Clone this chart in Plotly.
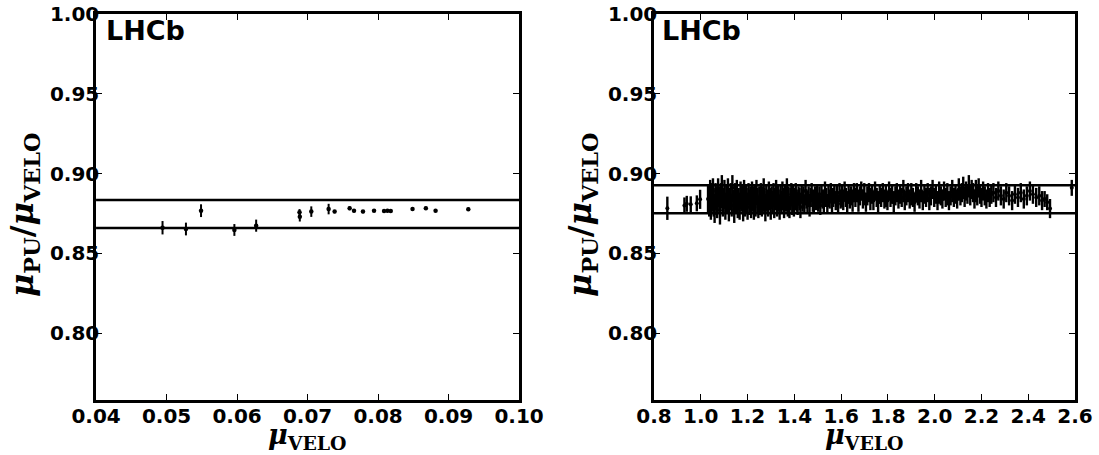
import plotly.graph_objects as go

# ---------------- Left panel (low mu) ----------------
left_x = [0.04943, 0.05275, 0.05489, 0.05962, 0.06271, 0.06886, 0.06890, 0.07053, 0.07299,
          0.07384, 0.07597, 0.07659, 0.07786, 0.07943, 0.08085, 0.08133, 0.08180, 0.08489,
          0.08678, 0.08816, 0.09280]
left_y = [0.8660, 0.8652, 0.8767, 0.8646, 0.8673, 0.8757, 0.8729, 0.8761, 0.8777,
          0.8761, 0.8782, 0.8767, 0.8761, 0.8767, 0.8765, 0.8767, 0.8765, 0.8777,
          0.8782, 0.8767, 0.8776]
left_yerr = [0.0042, 0.0040, 0.0040, 0.0037, 0.0038, 0.0020, 0.0030, 0.0033, 0.0033,
             0.0010, 0.0012, 0.0010, 0.0010, 0.0008, 0.0008, 0.0010, 0.0008, 0.0008,
             0.0010, 0.0008, 0.0010]
left_band = [0.8658, 0.8834]

# ---------------- Right panel (high mu) ----------------
right_x = [
    0.857, 0.930, 0.940, 0.957, 0.983, 0.997,
    1.031, 1.036, 1.040, 1.043, 1.048, 1.052, 1.055, 1.059, 1.063, 1.067,
    1.070, 1.074, 1.079, 1.082, 1.086, 1.090, 1.094, 1.097, 1.101, 1.105,
    1.109, 1.113, 1.116, 1.120, 1.124, 1.128, 1.132, 1.135, 1.139, 1.143,
    1.147, 1.151, 1.154, 1.158, 1.162, 1.166, 1.170, 1.173, 1.177, 1.181,
    1.185, 1.189, 1.193, 1.196, 1.200, 1.204, 1.208, 1.212, 1.215, 1.219,
    1.223, 1.227, 1.231, 1.234, 1.238, 1.242, 1.246, 1.250, 1.253, 1.257,
    1.261, 1.265, 1.269, 1.272, 1.276, 1.280, 1.284, 1.288, 1.291, 1.295,
    1.299, 1.303, 1.307, 1.311, 1.314, 1.318, 1.322, 1.326, 1.330, 1.333,
    1.337, 1.341, 1.345, 1.349, 1.352, 1.356, 1.360, 1.364, 1.368, 1.372,
    1.375, 1.379, 1.383, 1.387, 1.391, 1.394, 1.398, 1.402, 1.406, 1.410,
    1.414, 1.418, 1.422, 1.426, 1.431, 1.435, 1.439, 1.443, 1.448, 1.452,
    1.456, 1.461, 1.465, 1.470, 1.474, 1.479, 1.483, 1.488, 1.492, 1.497,
    1.502, 1.507, 1.511, 1.516, 1.521, 1.526, 1.531, 1.536, 1.541, 1.546,
    1.551, 1.556, 1.561, 1.566, 1.571, 1.577, 1.582, 1.587, 1.593, 1.598,
    1.604, 1.609, 1.615, 1.620, 1.626, 1.632, 1.637, 1.643, 1.649, 1.655,
    1.661, 1.667, 1.674, 1.680, 1.686, 1.693, 1.699, 1.706, 1.712, 1.719,
    1.725, 1.732, 1.738, 1.745, 1.752, 1.758, 1.765, 1.771, 1.778, 1.785,
    1.791, 1.798, 1.805, 1.811, 1.818, 1.825, 1.832, 1.838, 1.845, 1.852,
    1.859, 1.866, 1.872, 1.879, 1.886, 1.893, 1.900, 1.907, 1.914, 1.921,
    1.928, 1.935, 1.942, 1.949, 1.956, 1.963, 1.970, 1.977, 1.984, 1.991,
    1.998, 2.005, 2.012, 2.019, 2.026, 2.033, 2.040, 2.047, 2.054, 2.061,
    2.068, 2.075, 2.082, 2.089, 2.096, 2.103, 2.110, 2.116, 2.122, 2.128,
    2.134, 2.140, 2.146, 2.152, 2.158, 2.164, 2.170, 2.176, 2.182, 2.188,
    2.194, 2.200, 2.207, 2.214, 2.221, 2.228, 2.235, 2.242,
    2.251, 2.262, 2.272, 2.283, 2.295, 2.306, 2.318, 2.331, 2.343, 2.356,
    2.368, 2.381, 2.394, 2.407, 2.420, 2.434, 2.447, 2.459, 2.470, 2.481,
    2.493, 2.586,
]
right_y = [
    0.8782, 0.880, 0.881, 0.8807, 0.8813, 0.8838,
    0.884, 0.881, 0.887, 0.879, 0.885, 0.889, 0.882, 0.878, 0.886, 0.883,
    0.880, 0.888, 0.884, 0.877, 0.886, 0.890, 0.881, 0.883, 0.887, 0.879,
    0.885, 0.882, 0.889, 0.878, 0.884, 0.886, 0.880, 0.891, 0.883, 0.877,
    0.886, 0.882, 0.888, 0.880, 0.884, 0.879, 0.887, 0.883, 0.885, 0.878,
    0.889, 0.881, 0.886, 0.883, 0.879, 0.887, 0.882, 0.885, 0.880, 0.888,
    0.884, 0.878, 0.886, 0.881, 0.889, 0.883, 0.879, 0.885, 0.882, 0.887,
    0.880, 0.884, 0.890, 0.882, 0.878, 0.886, 0.883, 0.881, 0.888, 0.884,
    0.879, 0.885, 0.882, 0.887, 0.880, 0.884, 0.889, 0.881, 0.886, 0.883,
    0.878, 0.885, 0.882, 0.888, 0.884, 0.880, 0.886, 0.883, 0.890, 0.881,
    0.885, 0.879, 0.884, 0.887, 0.882, 0.886, 0.880, 0.884, 0.888, 0.883,
    0.881, 0.886, 0.884, 0.879, 0.887, 0.883, 0.885, 0.881, 0.889, 0.884,
    0.882, 0.886, 0.880, 0.885, 0.888, 0.883, 0.881, 0.886, 0.884, 0.887,
    0.882, 0.885, 0.880, 0.887, 0.884, 0.882, 0.889, 0.885, 0.881, 0.886,
    0.884, 0.888, 0.882, 0.885, 0.887, 0.883, 0.886, 0.881, 0.888, 0.884,
    0.886, 0.883, 0.889, 0.885, 0.882, 0.887, 0.884, 0.886, 0.883, 0.888,
    0.885, 0.888, 0.883, 0.886, 0.889, 0.884, 0.887, 0.882, 0.886, 0.888,
    0.884, 0.887, 0.883, 0.889, 0.885, 0.882, 0.887, 0.885, 0.888, 0.884,
    0.886, 0.883, 0.889, 0.885, 0.887, 0.882, 0.886, 0.888, 0.884, 0.887,
    0.885, 0.889, 0.883, 0.886, 0.888, 0.884, 0.887, 0.885, 0.882, 0.888,
    0.886, 0.884, 0.889, 0.883, 0.887, 0.885, 0.888, 0.884, 0.886, 0.890,
    0.885, 0.887, 0.883, 0.888, 0.886, 0.884, 0.889, 0.885, 0.887, 0.883,
    0.886, 0.889, 0.885, 0.887, 0.884, 0.890, 0.886, 0.888, 0.891, 0.885,
    0.889, 0.887, 0.892, 0.886, 0.890, 0.888, 0.884, 0.889, 0.886, 0.891,
    0.887, 0.885, 0.889, 0.886, 0.884, 0.888, 0.885, 0.887,
    0.888, 0.885, 0.889, 0.886, 0.884, 0.888, 0.886, 0.883, 0.887, 0.885,
    0.888, 0.884, 0.886, 0.889, 0.887, 0.885, 0.886, 0.883, 0.884, 0.882,
    0.878, 0.891,
]
right_yerr = [
    0.0073, 0.005, 0.005, 0.005, 0.005, 0.006,
    0.009, 0.008, 0.009, 0.008, 0.009, 0.008, 0.009, 0.009, 0.008, 0.009,
    0.008, 0.009, 0.008, 0.009, 0.008, 0.009, 0.008, 0.008, 0.009, 0.008,
    0.008, 0.007, 0.008, 0.008, 0.007, 0.008, 0.007, 0.008, 0.007, 0.008,
    0.008, 0.007, 0.008, 0.008, 0.007, 0.008, 0.008, 0.007, 0.008, 0.008,
    0.007, 0.008, 0.007, 0.008, 0.008, 0.007, 0.008, 0.007, 0.008, 0.007,
    0.008, 0.007, 0.007, 0.008, 0.007, 0.008, 0.007, 0.007, 0.008, 0.007,
    0.007, 0.008, 0.007, 0.007, 0.008, 0.007, 0.007, 0.008, 0.007, 0.007,
    0.008, 0.007, 0.007, 0.007, 0.008, 0.007, 0.007, 0.008, 0.007, 0.007,
    0.007, 0.008, 0.007, 0.007, 0.007, 0.008, 0.007, 0.007, 0.007, 0.008,
    0.007, 0.007, 0.007, 0.007, 0.008, 0.007, 0.007, 0.007, 0.006, 0.007,
    0.007, 0.006, 0.007, 0.007, 0.006, 0.007, 0.007, 0.006, 0.007, 0.006,
    0.007, 0.006, 0.007, 0.006, 0.006, 0.007, 0.006, 0.006, 0.007, 0.006,
    0.006, 0.007, 0.006, 0.006, 0.006, 0.007, 0.006, 0.006, 0.006, 0.007,
    0.006, 0.006, 0.007, 0.006, 0.006, 0.006, 0.007, 0.006, 0.006, 0.006,
    0.007, 0.006, 0.006, 0.006, 0.007, 0.006, 0.006, 0.006, 0.007, 0.006,
    0.006, 0.006, 0.007, 0.006, 0.006, 0.006, 0.007, 0.006, 0.006, 0.006,
    0.007, 0.006, 0.006, 0.006, 0.006, 0.007, 0.006, 0.006, 0.006, 0.006,
    0.007, 0.006, 0.006, 0.006, 0.006, 0.007, 0.006, 0.006, 0.006, 0.006,
    0.006, 0.007, 0.006, 0.006, 0.006, 0.006, 0.007, 0.006, 0.006, 0.006,
    0.006, 0.006, 0.007, 0.006, 0.006, 0.006, 0.006, 0.007, 0.006, 0.006,
    0.006, 0.006, 0.006, 0.007, 0.006, 0.006, 0.006, 0.006, 0.007, 0.006,
    0.006, 0.007, 0.006, 0.006, 0.006, 0.007, 0.006, 0.006, 0.007, 0.006,
    0.006, 0.006, 0.007, 0.006, 0.006, 0.006, 0.006, 0.007, 0.006, 0.006,
    0.006, 0.006, 0.006, 0.006, 0.006, 0.006, 0.006, 0.006,
    0.006, 0.006, 0.006, 0.006, 0.006, 0.006, 0.006, 0.006, 0.006, 0.006,
    0.006, 0.006, 0.006, 0.006, 0.006, 0.006, 0.006, 0.006, 0.005, 0.005,
    0.006, 0.005,
]
right_band = [0.8751, 0.8927]

x_ticks_left = [0.04, 0.05, 0.06, 0.07, 0.08, 0.09, 0.10]
x_ticks_right = [0.8, 1.0, 1.2, 1.4, 1.6, 1.8, 2.0, 2.2, 2.4, 2.6]
y_ticks = [0.80, 0.85, 0.90, 0.95, 1.00]

X_TITLE = "<b><i>μ</i><sub>VELO</sub></b>"
Y_TITLE = "<b><i>μ</i><sub>PU</sub>/<i>μ</i><sub>VELO</sub></b>"

fig = go.Figure()

fig.add_trace(go.Scatter(
    x=left_x, y=left_y, mode="markers",
    marker=dict(color="black", size=4.5),
    error_y=dict(type="data", array=left_yerr, visible=True, color="black", thickness=2, width=0),
    xaxis="x", yaxis="y", showlegend=False))

fig.add_trace(go.Scatter(
    x=right_x, y=right_y, mode="markers",
    marker=dict(color="black", size=4),
    error_y=dict(type="data", array=right_yerr, visible=True, color="black", thickness=2.4, width=0),
    xaxis="x2", yaxis="y2", showlegend=False))

for val in left_band:
    fig.add_shape(type="line", xref="x domain", yref="y", x0=0, x1=1, y0=val, y1=val,
                  line=dict(color="black", width=2.5))
for val in right_band:
    fig.add_shape(type="line", xref="x2 domain", yref="y2", x0=0, x1=1, y0=val, y1=val,
                  line=dict(color="black", width=2.5))

tick_font = dict(family="DejaVu Sans", size=20, color="black", weight="bold")
xtitle_font = dict(family="DejaVu Serif", size=27, color="black")
ytitle_font = dict(family="DejaVu Serif", size=32, color="black")

axis_common = dict(showline=True, linecolor="black", linewidth=2.5, mirror="allticks",
                   ticks="inside", ticklen=6, tickwidth=1, tickcolor="black",
                   showgrid=False, zeroline=False, tickfont=tick_font, automargin=False,
                   ticklabeloverflow="allow")

fig.update_layout(
    width=1099, height=455,
    margin=dict(l=0, r=0, t=0, b=0),
    plot_bgcolor="white", paper_bgcolor="white",
    xaxis=dict(domain=[0.0874, 0.4723], range=[0.04, 0.10], tickvals=x_ticks_left,
               tickformat=".2f", anchor="y", ticklabelstandoff=-4, **axis_common),
    yaxis=dict(domain=[0.1209, 0.9692], range=[0.758, 1.0], tickvals=y_ticks,
               tickformat=".2f", anchor="x", ticklabelstandoff=-10, **axis_common),
    xaxis2=dict(domain=[0.5951, 0.9782], range=[0.8, 2.6], tickvals=x_ticks_right,
                tickformat=".1f", anchor="y2", ticklabelstandoff=-4, **axis_common),
    yaxis2=dict(domain=[0.1209, 0.9692], range=[0.758, 1.0], tickvals=y_ticks,
                tickformat=".2f", anchor="x2", ticklabelstandoff=-10, **axis_common),
)

# axis titles
for xr, yr in [("x", "y"), ("x2", "y2")]:
    fig.add_annotation(text=X_TITLE, xref=f"{xr} domain", yref=f"{yr} domain", x=0.5, y=0,
                       xanchor="center", yanchor="middle", yshift=-37, showarrow=False,
                       font=xtitle_font)
    fig.add_annotation(text=Y_TITLE, xref=f"{xr} domain", yref=f"{yr} domain", x=0, y=0.5,
                       xanchor="center", yanchor="middle", xshift=-72, yshift=-8,
                       textangle=-90, showarrow=False, font=ytitle_font)

lhcb_font = dict(family="DejaVu Sans", size=27, color="black", weight="bold")
fig.add_annotation(text="LHCb", xref="x domain", yref="y domain", x=0, y=1.0, xshift=8, yshift=1,
                   xanchor="left", yanchor="top", showarrow=False, font=lhcb_font)
fig.add_annotation(text="LHCb", xref="x2 domain", yref="y2 domain", x=0, y=1.0, xshift=6, yshift=1,
                   xanchor="left", yanchor="top", showarrow=False, font=lhcb_font)

# remove the default 8px page margin so the 1099x455 figure fills the window exactly
fig.write_html("out.html", config={"displayModeBar": False},
               post_script="document.body.style.margin='0';")
